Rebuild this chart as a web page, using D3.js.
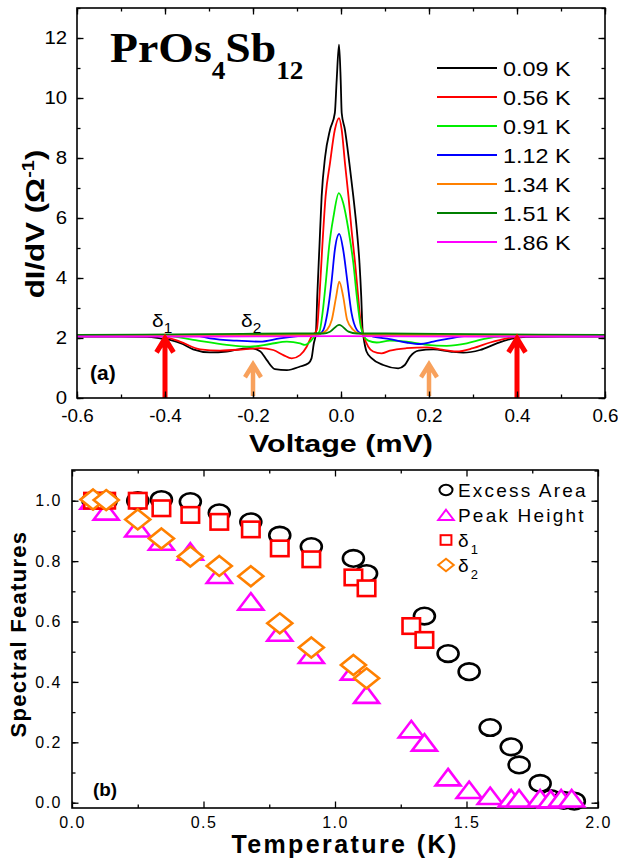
<!DOCTYPE html>
<html>
<head>
<meta charset="utf-8">
<script src="https://cdn.jsdelivr.net/npm/d3@7"></script>
<style>
  body { margin: 0; background: #fff; }
  svg { display: block; }
  text { fill: #000; }
</style>
</head>
<body>
<svg id="chart" width="618" height="859"></svg>
<script>
// ---- panel (a): dI/dV spectra, [voltage (mV), dI/dV] ----
const curve009 = [[-0.60,2.05],[-0.50,2.05],[-0.44,2.04],[-0.411,1.99],[-0.389,1.94],[-0.36,1.80],[-0.336,1.62],[-0.298,1.52],[-0.26,1.55],[-0.225,1.64],[-0.207,1.66],[-0.184,1.56],[-0.169,1.27],[-0.15,0.96],[-0.123,0.93],[-0.093,1.05],[-0.074,1.16],[-0.067,1.32],[-0.062,1.8],[-0.057,2.16],[-0.054,3.38],[-0.049,5.05],[-0.044,6.72],[-0.036,8.05],[-0.025,8.94],[-0.014,9.5],[-0.0098,10.6],[-0.0045,11.78],[-0.0007,10.6],[0.0016,9.5],[0.009,8.94],[0.019,7.83],[0.028,6.72],[0.036,5.6],[0.042,4.5],[0.046,3.38],[0.049,2.27],[0.051,2.05],[0.058,1.55],[0.07,1.32],[0.096,1.10],[0.13,0.99],[0.145,1.10],[0.157,1.38],[0.176,1.58],[0.21,1.62],[0.248,1.55],[0.278,1.51],[0.316,1.60],[0.354,1.82],[0.392,1.99],[0.42,2.04],[0.5,2.05],[0.6,2.05]];
const curve056 = [[-0.60,2.08],[-0.45,2.08],[-0.411,2.06],[-0.366,1.88],[-0.32,1.62],[-0.275,1.58],[-0.222,1.62],[-0.184,1.66],[-0.154,1.60],[-0.131,1.43],[-0.112,1.32],[-0.093,1.43],[-0.078,1.71],[-0.067,2.05],[-0.055,2.27],[-0.049,3.38],[-0.0425,5.05],[-0.035,6.72],[-0.025,7.83],[-0.014,8.94],[-0.0045,9.33],[0.0016,8.94],[0.009,7.83],[0.017,6.72],[0.024,5.6],[0.032,4.5],[0.039,3.38],[0.045,2.49],[0.051,2.1],[0.062,1.71],[0.073,1.55],[0.092,1.49],[0.111,1.58],[0.149,1.66],[0.195,1.69],[0.225,1.62],[0.263,1.55],[0.30,1.66],[0.339,1.85],[0.377,1.99],[0.40,2.04],[0.45,2.08],[0.60,2.08]];
const curve091 = [[-0.60,2.1],[-0.40,2.08],[-0.336,1.94],[-0.26,1.77],[-0.207,1.71],[-0.161,1.80],[-0.123,1.88],[-0.093,1.82],[-0.082,1.77],[-0.07,1.88],[-0.058,2.1],[-0.049,2.21],[-0.042,2.83],[-0.034,3.94],[-0.027,5.05],[-0.017,6.05],[-0.005,6.83],[0.005,6.5],[0.017,5.6],[0.028,4.5],[0.036,3.38],[0.045,2.38],[0.051,2.1],[0.062,1.91],[0.081,1.85],[0.111,1.91],[0.149,1.88],[0.195,1.77],[0.24,1.74],[0.286,1.82],[0.323,1.96],[0.36,2.05],[0.60,2.1]];
const curve112 = [[-0.60,2.1],[-0.33,2.08],[-0.298,1.99],[-0.237,1.91],[-0.184,1.88],[-0.139,1.99],[-0.093,2.07],[-0.05,2.12],[-0.040,2.27],[-0.031,2.83],[-0.021,3.94],[-0.014,4.94],[-0.004,5.47],[0.005,4.94],[0.014,3.94],[0.024,2.83],[0.036,2.27],[0.046,2.15],[0.073,2.05],[0.111,1.96],[0.149,1.85],[0.18,1.80],[0.21,1.88],[0.248,1.99],[0.286,2.07],[0.60,2.1]];
const curve134 = [[-0.60,2.1],[-0.06,2.1],[-0.045,2.15],[-0.032,2.27],[-0.021,2.6],[-0.011,3.38],[-0.004,3.88],[0.005,3.38],[0.014,2.6],[0.028,2.27],[0.041,2.15],[0.06,2.1],[0.60,2.1]];
const curve151 = [[-0.60,2.1],[-0.3,2.13],[-0.1,2.15],[-0.04,2.15],[-0.025,2.21],[-0.004,2.44],[0.017,2.21],[0.036,2.15],[0.1,2.15],[0.3,2.13],[0.60,2.1]];
const curve186 = [[-0.60,2.05],[-0.3,2.05],[0,2.06],[0.3,2.05],[0.60,2.05]];

const spectra = [curve009, curve056, curve091, curve112, curve134, curve151, curve186];
const spectraLabels = ["0.09 K", "0.56 K", "0.91 K", "1.12 K", "1.34 K", "1.51 K", "1.86 K"];
const spectraColors = ["#000000", "#ff0000", "#00ee00", "#0000ff", "#ff8000", "#007f00", "#ff00ff"];

const voltTicks = [-0.6, -0.4, -0.2, 0, 0.2, 0.4, 0.6];
const dIdVTicks = [0, 2, 4, 6, 8, 10, 12];

// arrows marking delta1 (red) and delta2 (orange)
const arrowVolts = [-0.4, 0.4, -0.2, 0.2];
const arrowTips = [2.02, 2.02, 1.16, 1.16];
const arrowFeet = [0, 0, 0.07, 0.07];

// ---- panel (b): spectral features vs temperature ----
const tempsArea = [0.08,0.13,0.25,0.34,0.45,0.56,0.68,0.79,0.91,1.07,1.12,1.34,1.43,1.51,1.59,1.67,1.70,1.78,1.82,1.87,1.91];
const excessArea = [1.0,1.0,1.0,1.004,0.997,0.96,0.93,0.886,0.848,0.809,0.759,0.618,0.494,0.434,0.249,0.185,0.125,0.064,0.014,0.008,0.005];
const tempsPeak = [0.08,0.13,0.25,0.34,0.45,0.56,0.68,0.79,0.91,1.07,1.12,1.29,1.34,1.43,1.51,1.59,1.67,1.70,1.78,1.82,1.86,1.90];
const peakHeight = [1.0,0.964,0.908,0.864,0.831,0.754,0.666,0.563,0.489,0.434,0.357,0.243,0.199,0.084,0.042,0.022,0.014,0.014,0.014,0.011,0.014,0.014];
const tempsDelta1 = [0.08,0.13,0.25,0.34,0.45,0.56,0.68,0.79,0.91,1.07,1.12,1.29,1.34];
const delta1 = [1.0,1.0,1.0,0.975,0.953,0.93,0.905,0.842,0.806,0.746,0.71,0.585,0.539];
const tempsDelta2 = [0.08,0.13,0.25,0.34,0.45,0.56,0.68,0.79,0.91,1.07,1.12];
const delta2 = [1.004,1.002,0.938,0.875,0.815,0.784,0.75,0.594,0.514,0.456,0.412];

const tempTicks = [0, 0.5, 1.0, 1.5, 2.0];
const tempMinor = [0.25, 0.75, 1.25, 1.75];
const featTicks = [0, 0.2, 0.4, 0.6, 0.8, 1.0];

const SANS = '"Liberation Sans", Arial, sans-serif';
const SERIF = '"Liberation Serif", "Times New Roman", serif';
const svg = d3.select("#chart");

function stretchText(g, x, y, o) {
  const t = g.append("text")
    .attr("transform", `translate(${x},${y})${o.rot ? ` rotate(${o.rot})` : ""} scale(${o.sx || 1},1)`)
    .style("font-family", o.family || SANS)
    .attr("font-size", o.size)
    .attr("font-weight", o.bold ? "bold" : "normal")
    .attr("text-anchor", o.anchor || "start")
    .attr("letter-spacing", o.ls || 0);
  (o.parts || [{ s: o.text }]).forEach(p => {
    const ts = t.append("tspan").text(p.s);
    if (p.dy) ts.attr("dy", p.dy);
    if (p.size) ts.attr("font-size", p.size);
  });
  return t;
}

function drawFrame(g, x, y, o) {
  const [x0, x1] = x.range(), [y0, y1] = y.range();
  const styleAxis = sel => {
    sel.select(".domain").remove();
    sel.selectAll(".tick line").attr("stroke", "#000").attr("stroke-width", 1.3);
  };
  // minor ticks on all four sides
  g.append("g").attr("transform", `translate(0,${y0})`).call(d3.axisBottom(x).tickValues(o.xMinor).tickSize(-3.5).tickFormat("")).call(styleAxis);
  g.append("g").attr("transform", `translate(0,${y1})`).call(d3.axisTop(x).tickValues(o.xMinor).tickSize(-3.5).tickFormat("")).call(styleAxis);
  g.append("g").attr("transform", `translate(${x0},0)`).call(d3.axisLeft(y).tickValues(o.yMinor).tickSize(-3.5).tickFormat("")).call(styleAxis);
  g.append("g").attr("transform", `translate(${x1},0)`).call(d3.axisRight(y).tickValues(o.yMinor).tickSize(-3.5).tickFormat("")).call(styleAxis);
  // major ticks with labels
  const bx = g.append("g").attr("transform", `translate(0,${y0})`)
    .call(d3.axisBottom(x).tickValues(o.xMajor).tickSize(-6.5).tickPadding(o.xPad).tickFormat(o.xFmt)).call(styleAxis);
  const ly = g.append("g").attr("transform", `translate(${x0},0)`)
    .call(d3.axisLeft(y).tickValues(o.yMajor).tickSize(-6.5).tickPadding(o.yPad).tickFormat(o.yFmt)).call(styleAxis);
  g.append("g").attr("transform", `translate(0,${y1})`).call(d3.axisTop(x).tickValues(o.xMajor).tickSize(-6.5).tickFormat("")).call(styleAxis);
  g.append("g").attr("transform", `translate(${x1},0)`).call(d3.axisRight(y).tickValues(o.yMajor).tickSize(-6.5).tickFormat("")).call(styleAxis);
  [[bx, o.sxX], [ly, o.sxY]].forEach(([a, sx]) => a.selectAll("text")
    .style("font-family", SANS)
    .attr("font-size", o.fontSize)
    .attr("letter-spacing", o.ls || 0)
    .attr("fill", "#000")
    .attr("transform", `scale(${sx || 1},1)`));
  g.append("rect")
    .attr("x", x0).attr("y", y1).attr("width", x1 - x0).attr("height", y0 - y1)
    .attr("fill", "none").attr("stroke", "#000").attr("stroke-width", 1.6);
}

// ===================== panel (a) =====================
const xa = d3.scaleLinear().domain([-0.6, 0.6]).range([77, 605]);
const ya = d3.scaleLinear().domain([0, 13]).range([398, 8]);
const ga = svg.append("g");

const line = d3.line().x(d => xa(d[0])).y(d => ya(d[1])).curve(d3.curveMonotoneX);
ga.append("g").selectAll("path").data(spectra).join("path")
  .attr("d", line)
  .attr("fill", "none")
  .attr("stroke", (d, i) => spectraColors[i])
  .attr("stroke-width", 1.8)
  .attr("stroke-linejoin", "round");

// arrows
ga.append("g").selectAll("path").data(arrowVolts).join("path")
  .attr("d", (v, i) => {
    const x = xa(v), yt = ya(arrowTips[i]), yb = ya(arrowFeet[i]);
    const hw = i < 2 ? 8.5 : 8, hh = i < 2 ? 15 : 14;
    return `M${x},${yb}L${x},${yt + 2}M${x - hw},${yt + hh}L${x},${yt + 1}L${x + hw},${yt + hh}`;
  })
  .attr("fill", "none")
  .attr("stroke", (v, i) => i < 2 ? "#ff0000" : "#f8a15c")
  .attr("stroke-width", (v, i) => i < 2 ? 5 : 4.5)
  .attr("stroke-linejoin", "miter");

drawFrame(ga, xa, ya, {
  xMajor: voltTicks, xMinor: xa.ticks(12), yMajor: dIdVTicks, yMinor: ya.ticks(13),
  xFmt: d => d.toFixed(1), yFmt: d => String(d), xPad: 11, yPad: 9, fontSize: 18.5, sxX: 1.02, sxY: 1.1
});

// legend (a)
const legA = ga.append("g");
spectraLabels.forEach((lab, i) => {
  const ry = 68 + i * 29;
  legA.append("line").attr("x1", 437).attr("x2", 497).attr("y1", ry).attr("y2", ry)
    .attr("stroke", spectraColors[i]).attr("stroke-width", 2);
  stretchText(legA, 503, ry + 7.5, { text: lab, size: 20, sx: 1.17 });
});

// title
stretchText(ga, 110, 62, {
  family: SERIF, size: 42, bold: true, sx: 1.09,
  parts: [{ s: "PrOs" }, { s: "4", dy: 17, size: 25 }, { s: "Sb", dy: -17 }, { s: "12", dy: 17, size: 25 }]
});

// delta labels
stretchText(ga, xa(-0.4) - 13, 327, { size: 19, sx: 1.1, parts: [{ s: "δ" }, { s: "1", dy: 6, size: 14 }] });
stretchText(ga, xa(-0.2) - 12, 327, { size: 19, sx: 1.1, parts: [{ s: "δ" }, { s: "2", dy: 6, size: 14 }] });
stretchText(ga, 90, 380, { text: "(a)", size: 20, bold: true, sx: 1.05 });

// axis titles
stretchText(ga, 341, 452, { text: "Voltage (mV)", size: 24, bold: true, sx: 1.27, anchor: "middle" });
stretchText(ga, 44, 224, {
  size: 25, bold: true, sx: 1.25, rot: -90, anchor: "middle",
  parts: [{ s: "dI/dV (Ω" }, { s: "-1", dy: -10, size: 16 }, { s: ")", dy: 10 }]
});

// ===================== panel (b) =====================
const xb = d3.scaleLinear().domain([0, 2]).range([72, 598]);
const yb = d3.scaleLinear().domain([-0.0175, 1.1017]).range([808, 470]);
const gb = svg.append("g");

drawFrame(gb, xb, yb, {
  xMajor: tempTicks, xMinor: tempMinor, yMajor: featTicks, yMinor: yb.ticks(11),
  xFmt: d => d.toFixed(1), yFmt: d => d.toFixed(1), xPad: 9, yPad: 10, fontSize: 16, ls: 1.5
});

function marker(g, type, cx, cy, s, color, sw) {
  let m;
  if (type === "circle") {
    m = g.append("ellipse").attr("cx", cx).attr("cy", cy).attr("rx", 10.5 * s).attr("ry", 8.3 * s);
  } else if (type === "triangle") {
    m = g.append("path").attr("d", `M${cx},${cy - 8.5 * s}L${cx + 12.5 * s},${cy + 8 * s}L${cx - 12.5 * s},${cy + 8 * s}Z`);
  } else if (type === "square") {
    m = g.append("rect").attr("x", cx - 8.75 * s).attr("y", cy - 7.75 * s).attr("width", 17.5 * s).attr("height", 15.5 * s);
  } else {
    m = g.append("path").attr("d", `M${cx},${cy - 10 * s}L${cx + 12.5 * s},${cy}L${cx},${cy + 10 * s}L${cx - 12.5 * s},${cy}Z`);
  }
  m.attr("fill", "#fff").attr("stroke", color).attr("stroke-width", sw).attr("stroke-linejoin", "miter");
}

const featureSets = [
  { temps: tempsArea, vals: excessArea, type: "circle", color: "#000000" },
  { temps: tempsPeak, vals: peakHeight, type: "triangle", color: "#ff00ff" },
  { temps: tempsDelta1, vals: delta1, type: "square", color: "#ff0000" },
  { temps: tempsDelta2, vals: delta2, type: "diamond", color: "#ff8000" }
];
const pts = gb.append("g");
featureSets.forEach(f => {
  f.temps.forEach((t, i) => marker(pts, f.type, xb(t), yb(f.vals[i]), 1, f.color, 2.6));
});

// legend (b)
const legB = gb.append("g");
const legNames = [[{ s: "Excess Area" }], [{ s: "Peak Height" }],
  [{ s: "δ" }, { s: "1", dy: 7, size: 13 }], [{ s: "δ" }, { s: "2", dy: 7, size: 13 }]];
featureSets.forEach((f, i) => {
  const ry = 490 + i * 25;
  marker(legB, f.type, 446, ry, 0.62, f.color, 2);
  stretchText(legB, 458, ry + 6.5, { size: 19, ls: 2.2, parts: legNames[i] });
});

stretchText(gb, 93, 796, { text: "(b)", size: 18, bold: true, sx: 1.05 });
stretchText(gb, 345, 853, { text: "Temperature (K)", size: 25, bold: true, ls: 2.4, anchor: "middle" });
stretchText(gb, 26, 634, { text: "Spectral Features", size: 22, bold: true, ls: 1.3, rot: -90, anchor: "middle" });
</script>
</body>
</html>
